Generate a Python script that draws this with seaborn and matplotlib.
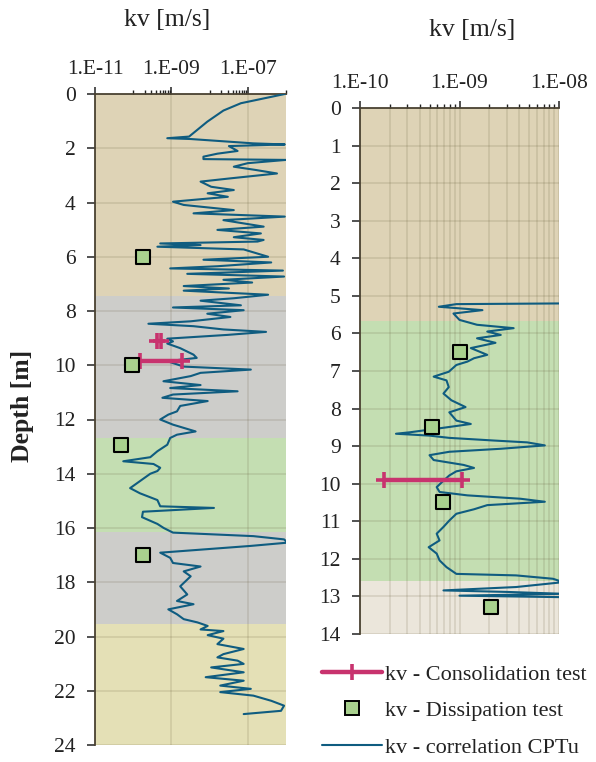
import numpy as np
import pandas as pd
import matplotlib
matplotlib.use("Agg")
import matplotlib.pyplot as plt
import seaborn as sns
from matplotlib.lines import Line2D
from matplotlib.ticker import FixedLocator, FixedFormatter, NullFormatter

sns.set_theme(style="white")
plt.rcParams['font.family'] = ['Liberation Serif', 'DejaVu Serif']

# ---------------- data ----------------
# Left profile: CPTu correlation
left_depth = [0.00, 0.34, 0.61, 1.02, 1.57, 1.63, 1.66, 1.82, 1.86, 1.92, 2.10, 2.20, 2.31, 2.40,
              2.43, 2.55, 2.68, 2.80, 2.93, 3.11, 3.23, 3.42, 3.54, 3.66, 3.79, 3.97, 4.09, 4.28,
              4.40, 4.52, 4.65, 4.89, 5.01, 5.14, 5.28, 5.38, 5.44, 5.51, 5.57, 5.63, 5.73, 6.00,
              6.11, 6.21, 6.35, 6.43, 6.51, 6.63, 6.73, 6.85, 6.95, 7.08, 7.17, 7.25, 7.40, 7.53,
              7.62, 7.79, 7.87, 7.97, 8.10, 8.22, 8.38, 8.47, 8.56, 8.68, 8.77, 8.88, 9.02, 9.12,
              9.20, 9.37, 9.61, 9.73, 9.85, 10.05, 10.16, 10.28, 10.40, 10.59, 10.73, 10.84, 10.96,
              11.08, 11.20, 11.32, 11.50, 11.70, 11.82, 12.00, 12.19, 12.44, 12.56, 12.68, 12.93,
              13.17, 13.39, 13.54, 13.64, 13.78, 13.90, 14.00, 14.53, 14.72, 14.97, 15.20, 15.26,
              15.40, 15.60, 15.85, 16.00, 16.17, 16.30, 16.42, 16.54, 16.66, 16.79, 16.91, 17.10,
              17.29, 17.42, 17.60, 17.78, 18.15, 18.45, 18.69, 18.81, 19.00, 19.18, 19.36, 19.48,
              19.61, 19.74, 19.80, 19.95, 20.08, 20.28, 20.46, 20.65, 20.77, 20.89, 21.01, 21.14,
              21.32, 21.50, 21.63, 21.81, 21.93, 22.05, 22.18, 22.37, 22.55, 22.74, 22.86]
left_kv = [9.3e-7, 6.6e-8, 2.3e-8, 8.7e-9, 2.9e-9, 7.8e-10, 3.2e-9, 1.4e-7, 9.3e-7, 3.2e-8, 5.4e-8, 1.6e-8, 6.9e-9, 6.9e-9,
           1.0e-6, 1.0e-7, 4.3e-8, 1.6e-7, 5.8e-7, 3.5e-8, 5.8e-9, 1.1e-8, 4.3e-8, 8.9e-9, 3.0e-8, 1.1e-9, 2.1e-9, 4.3e-8,
           3.8e-9, 9.3e-7, 2.3e-8, 2.6e-7, 1.6e-8, 2.2e-7, 4.3e-8, 2.6e-7, 1.8e-7, 5.1e-10, 5.8e-9, 4.3e-10, 7.8e-8, 3.4e-7,
           6.9e-9, 4.1e-7, 1.6e-8, 9.3e-10, 8.3e-7, 2.6e-9, 8.9e-7, 2.3e-8, 1.3e-7, 2.1e-9, 3.2e-8, 2.1e-9, 3.4e-7, 4.3e-8,
           5.8e-9, 6.6e-8, 1.1e-9, 7.8e-8, 8.7e-9, 3.5e-8, 3.2e-9, 2.5e-10, 3.8e-9, 2.3e-8, 3.0e-7, 3.0e-8, 7.8e-10, 1.1e-9,
           7.8e-10, 1.7e-9, 3.8e-9, 4.6e-9, 7.8e-10, 2.1e-9, 1.2e-7, 5.8e-9, 3.2e-9, 6.2e-10, 5.8e-9, 9.3e-10, 5.4e-8,
           1.1e-9, 5.8e-10, 8.9e-9, 1.7e-9, 1.4e-9, 8.3e-10, 5.1e-10, 1.1e-9, 4.3e-9, 1.4e-9, 9.3e-10, 7.8e-10,
           4.3e-10, 2.8e-10, 5.5e-11, 3.4e-10, 5.1e-10, 4.3e-10, 2.8e-10, 8.3e-11, 1.5e-10, 4.3e-10, 5.1e-10, 1.3e-8,
           1.8e-10, 1.7e-10, 4.3e-10, 6.3e-10, 1.1e-9, 1.4e-7, 8.9e-7, 1.1e-6, 1.2e-7, 6.9e-9, 5.1e-10, 9.3e-10,
           1.1e-9, 5.8e-9, 2.1e-9, 3.2e-9, 1.7e-9, 2.6e-9, 1.4e-9, 3.8e-9, 8.3e-10, 1.4e-9, 2.1e-9, 4.8e-9,
           8.9e-9, 5.8e-9, 2.3e-8, 8.9e-9, 2.3e-8, 1.6e-8, 7.8e-8, 2.3e-8, 1.6e-8, 5.4e-8, 7.8e-8, 1.1e-8,
           7.8e-8, 7.9e-9, 7.8e-8, 1.9e-8, 1.2e-7, 1.9e-8, 1.4e-7, 4.1e-7, 8.9e-7, 7.4e-7, 7.8e-8]

left_diss_depth = [6.0, 10.0, 12.95, 17.0]
left_diss_kv = [1.8e-10, 9.5e-11, 4.8e-11, 1.8e-10]

left_cons_segments = [([9.12, 9.12], [4.2e-10, 5.2e-10]),
                      ([9.83, 9.83], [1.5e-10, 1.9e-9])]

# Right profile: CPTu correlation
right_depth = [5.20, 5.22, 5.29, 5.38, 5.47, 5.64, 5.77, 5.86, 5.95, 6.04, 6.13, 6.25, 6.39, 6.57,
               6.66, 6.75, 6.84, 7.02, 7.15, 7.25, 7.43, 7.60, 7.78, 7.96, 8.10, 8.23, 8.32, 8.41,
               8.50, 8.63, 8.67, 8.72, 8.78, 8.85, 8.90, 8.98, 9.07, 9.15, 9.24, 9.37, 9.50, 9.58,
               9.67, 9.78, 9.92, 10.09, 10.22, 10.31, 10.40, 10.48, 10.57, 10.68, 10.80, 10.98,
               11.15, 11.33, 11.51, 11.69, 11.86, 12.04, 12.22, 12.40, 12.44, 12.53, 12.62, 12.75,
               12.84, 12.88, 12.93, 12.98, 13.02]
right_kv = [1.3e-8, 9.3e-10, 6.2e-10, 1.7e-9, 8.7e-10, 1.0e-9, 1.5e-9, 3.5e-9, 1.9e-9, 2.6e-9, 1.5e-9, 2.3e-9, 1.3e-9, 1.9e-9,
            1.4e-9, 1.2e-9, 9.3e-10, 7.8e-10, 5.5e-10, 7.4e-10, 7.8e-10, 6.9e-10, 8.3e-10, 1.15e-9, 7.9e-10, 8.7e-10, 9.3e-10, 1.3e-9,
            7.4e-10, 3.2e-10, 2.3e-10, 5.0e-10, 7.9e-10, 2.2e-9, 4.8e-9, 7.2e-9, 2.6e-9, 7.9e-10, 5.0e-10, 5.5e-10, 1.1e-9, 1.4e-9,
            9.3e-10, 7.9e-10, 6.9e-10, 5.9e-10, 6.3e-10, 1.2e-9, 4.1e-9, 7.2e-9, 1.9e-9, 1.4e-9, 9.3e-10, 7.9e-10,
            6.9e-10, 5.9e-10, 6.3e-10, 4.9e-10, 5.9e-10, 6.3e-10, 7.4e-10, 9.3e-10, 3.7e-9, 8.7e-9, 1.1e-8, 3.7e-9,
            6.9e-10, 3.0e-9, 1.1e-8, 1.0e-9, 1.1e-8]

right_diss_depth = [6.49, 8.48, 10.48, 13.29]
right_diss_kv = [1.02e-9, 5.3e-10, 6.9e-10, 2.05e-9]

right_cons_segments = [([9.9, 9.9], [1.75e-10, 1.05e-9])]

# soil layers (top, bottom)
left_layers_top = [0.0, 7.45, 12.7, 16.15, 19.55]
left_layers_bot = [7.45, 12.7, 16.15, 19.55, 24.0]
left_layers_col = ["#DED3B6", "#CDCDCA", "#C4DEB2", "#CDCDCA", "#E4E0B6"]
right_layers_top = [0.0, 5.66, 12.6]
right_layers_bot = [5.66, 12.6, 14.0]
right_layers_col = ["#DED3B6", "#C4DEB2", "#EBE6DB"]

legend_labels = ["kv - Consolidation test", "kv - Dissipation test", "kv - correlation CPTu"]

# ---------------- style ----------------
BLUE = "#0F5C80"
PINK = "#C8336E"
SQ_FACE = "#A9D18E"
GRID = "#5A5030"
GRID_ALPHA = 0.14
SPINE = "#4A4232"
TICK_FS = 15.5

W, H = 596, 762
fig = plt.figure(figsize=(W / 100, H / 100), dpi=100)
axL = fig.add_axes([95 / W, 1 - 745 / H, 191 / W, 651 / H])
axR = fig.add_axes([360 / W, 1 - 634 / H, 199 / W, 526 / H])


def draw_panel(ax, depth, kv, diss_d, diss_kv, cons, layers, xlim, ylim):
    for t, b, c in zip(*layers):
        ax.axhspan(t, b, color=c, zorder=0.1, lw=0)
    df = pd.DataFrame({"kv": kv, "depth": depth})
    sns.lineplot(data=df, x="kv", y="depth", sort=False, estimator=None,
                 color=BLUE, lw=1.5, ax=ax, zorder=3)
    for d, k in cons:
        seg = pd.DataFrame({"kv": k, "depth": d})
        sns.lineplot(data=seg, x="kv", y="depth", sort=False, estimator=None,
                     color=PINK, lw=3.2, marker="+", markersize=11,
                     markeredgewidth=2.6, markeredgecolor=PINK, ax=ax, zorder=4)
    dd = pd.DataFrame({"kv": diss_kv, "depth": diss_d})
    sns.scatterplot(data=dd, x="kv", y="depth", marker="s", s=105, color=SQ_FACE,
                    edgecolor="black", linewidth=1.5, ax=ax, zorder=5, clip_on=False)
    ax.set_xscale("log")
    ax.set_xlim(*xlim)
    ax.set_ylim(ylim[1], ylim[0])
    ax.set_xlabel("")
    ax.set_ylabel("")
    ax.xaxis.tick_top()
    for s in ["right", "bottom"]:
        ax.spines[s].set_visible(False)
    for s in ["left", "top"]:
        ax.spines[s].set_color(SPINE)
        ax.spines[s].set_linewidth(1.3)
    ax.set_axisbelow(True)


draw_panel(axL, left_depth, left_kv, left_diss_depth, left_diss_kv, left_cons_segments,
           (left_layers_top, left_layers_bot, left_layers_col), (1e-11, 1e-6), (0, 24))
draw_panel(axR, right_depth, right_kv, right_diss_depth, right_diss_kv, right_cons_segments,
           (right_layers_top, right_layers_bot, right_layers_col), (1e-10, 1e-8), (0, 14))

# Left axis ticks
axL.xaxis.set_major_locator(FixedLocator([1e-11, 1e-9, 1e-7]))
axL.xaxis.set_major_formatter(FixedFormatter(["1.E-11", "1.E-09", "1.E-07"]))
axL.xaxis.set_minor_locator(FixedLocator([m * 1e-10 for m in range(1, 10)] +
                                         [m * 1e-8 for m in range(1, 10)] + [1e-6]))
axL.xaxis.set_minor_formatter(NullFormatter())
axL.set_yticks(np.arange(0, 25, 2))
axL.grid(True, which="major", axis="both", color=GRID, alpha=GRID_ALPHA, lw=1.3)

# Right axis ticks
axR.xaxis.set_major_locator(FixedLocator([1e-10, 1e-9, 1e-8]))
axR.xaxis.set_major_formatter(FixedFormatter(["1.E-10", "1.E-09", "1.E-08"]))
axR.xaxis.set_minor_locator(FixedLocator([m * 1e-10 for m in range(2, 10)] +
                                         [m * 1e-9 for m in range(2, 10)]))
axR.xaxis.set_minor_formatter(NullFormatter())
axR.set_yticks(np.arange(0, 15, 1))
axR.grid(True, which="both", axis="x", color=GRID, alpha=GRID_ALPHA, lw=1.3)
axR.grid(True, which="major", axis="y", color=GRID, alpha=GRID_ALPHA, lw=1.3)

for ax in (axL, axR):
    ax.tick_params(axis="x", which="major", top=True, bottom=False, direction="out",
                   length=5, width=1.1, color="#222222", labelsize=TICK_FS, pad=6, labelcolor="#222222")
    ax.tick_params(axis="x", which="minor", top=True, bottom=False, direction="out",
                   length=3, width=1.0, color="#222222")
    ax.tick_params(axis="y", which="major", left=True, direction="out", length=6,
                   width=1.1, color="#222222", labelsize=TICK_FS, pad=8, labelcolor="#222222")

# titles and axis label
fig.text(167 / W, 1 - 20 / H, "kv [m/s]", ha="center", va="center", fontsize=18.5, color="#222222")
fig.text(472 / W, 1 - 30 / H, "kv [m/s]", ha="center", va="center", fontsize=18.5, color="#222222")
fig.text(22 / W, 1 - 406 / H, "Depth [m]", ha="center", va="center", rotation=90,
         fontsize=18.5, fontweight="bold", color="#222222")

# legend
handles = [Line2D([], [], color=PINK, lw=3.2, marker="+", markersize=11, markeredgewidth=2.6),
           Line2D([], [], ls="none", marker="s", markersize=9.5, markerfacecolor=SQ_FACE,
                  markeredgecolor="black", markeredgewidth=1.4),
           Line2D([], [], color=BLUE, lw=1.5)]
fig.legend(handles, legend_labels, loc="upper left", bbox_to_anchor=(322 / W, 1 - 664 / H),
           frameon=False, fontsize=16, handlelength=2.7, handletextpad=0.15,
           labelspacing=0.72, borderpad=0, borderaxespad=0, numpoints=1,
           labelcolor="#222222")

fig.savefig("out.png", dpi=100)
